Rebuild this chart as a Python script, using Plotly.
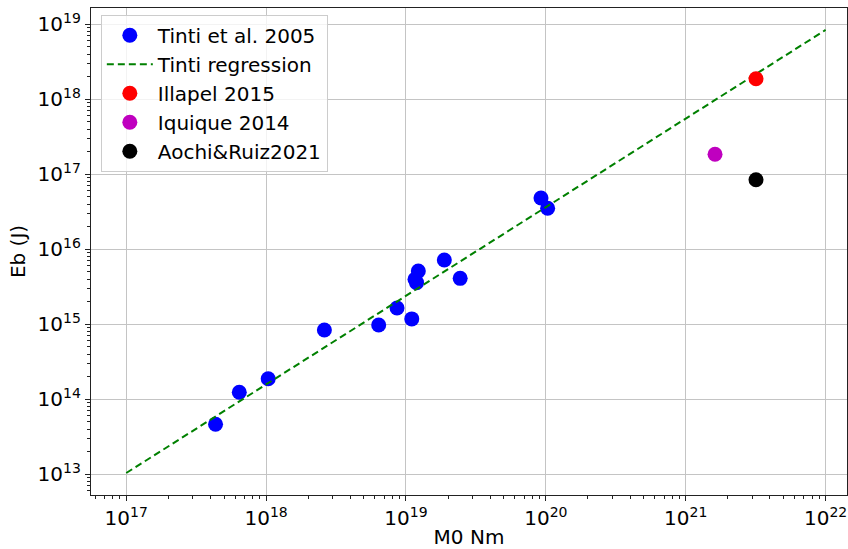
import numpy as np
import plotly.graph_objects as go

# Data
tinti_m0 = [4.35e17, 6.43e17, 1.035e18, 2.61e18, 6.38e18, 8.63e18, 1.10e19,
            1.225e19, 1.16e19, 1.19e19, 1.88e19, 2.44e19, 9.23e19, 1.03e20]
tinti_eb = [4.64e13, 1.24e14, 1.88e14, 8.4e14, 9.8e14, 1.65e15, 1.18e15,
            5.14e15, 3.98e15, 3.59e15, 7.2e15, 4.1e15, 4.83e16, 3.52e16]
regress_m0 = [1e17, 1e22]
regress_eb = [1.04e13, 8.4e18]
illapel_m0 = [3.18e21]
illapel_eb = [1.88e18]
iquique_m0 = [1.62e21]
iquique_eb = [1.85e17]
aochi_m0 = [3.18e21]
aochi_eb = [8.47e16]

x_decades = [17, 18, 19, 20, 21, 22]
y_decades = [13, 14, 15, 16, 17, 18, 19]

FONT = "DejaVu Sans"

fig = go.Figure()
fig.add_trace(go.Scatter(x=tinti_m0, y=tinti_eb, mode="markers", name="Tinti et al. 2005",
                         marker=dict(color="#0000ff", size=15)))
fig.add_trace(go.Scatter(x=regress_m0, y=regress_eb, mode="lines", name="Tinti regression",
                         line=dict(color="#008000", width=2, dash="7px,4px")))
fig.add_trace(go.Scatter(x=illapel_m0, y=illapel_eb, mode="markers", name="Illapel 2015",
                         marker=dict(color="#ff0000", size=15)))
fig.add_trace(go.Scatter(x=iquique_m0, y=iquique_eb, mode="markers", name="Iquique 2014",
                         marker=dict(color="#bf00bf", size=15)))
fig.add_trace(go.Scatter(x=aochi_m0, y=aochi_eb, mode="markers", name="Aochi&Ruiz2021",
                         marker=dict(color="#000000", size=15)))


def minor_vals(lo, hi):
    vals = []
    for d in range(lo, hi + 1):
        for k in range(2, 10):
            vals.append(k * 10.0 ** d)
    return vals


axis_common = dict(
    type="log", showline=True, linecolor="#222222", linewidth=1.3, mirror=True,
    ticks="outside", ticklen=5, tickwidth=1, tickcolor="#222222",
    showgrid=True, gridcolor="#c4c4c4", gridwidth=1, zeroline=False,
    tickfont=dict(family=FONT, size=20, color="black"),
    automargin=False,
)

fig.update_xaxes(
    **axis_common,
    range=[16.748, 22.153],
    tickmode="array",
    tickvals=[10.0 ** d for d in x_decades],
    ticktext=[f"10<sup>{d}</sup>" for d in x_decades],
    minor=dict(tickmode="array", tickvals=minor_vals(16, 22), ticks="outside",
               ticklen=3, tickcolor="#222222", showgrid=False),
    title=dict(text="M0 Nm", font=dict(family=FONT, size=20, color="black"), standoff=4),
)
fig.update_yaxes(
    **axis_common,
    range=[12.724, 19.217],
    tickmode="array",
    tickvals=[10.0 ** d for d in y_decades],
    ticktext=[f"10<sup>{d}</sup>" for d in y_decades],
    minor=dict(tickmode="array", tickvals=minor_vals(12, 19), ticks="outside",
               ticklen=3, tickcolor="#222222", showgrid=False),
    title=dict(text="Eb (J)", font=dict(family=FONT, size=20, color="black"), standoff=6),
)

fig.update_layout(
    width=848, height=549,
    margin=dict(l=91, r=1, t=8, b=54),
    plot_bgcolor="white", paper_bgcolor="white",
    font=dict(family=FONT, size=20, color="black"),
    legend=dict(x=0.013, y=0.986, xanchor="left", yanchor="top",
                bgcolor="rgba(255,255,255,0.8)", bordercolor="#cccccc", borderwidth=1,
                font=dict(family=FONT, size=20, color="black"), itemwidth=46),
    showlegend=True,
)

fig.write_html("out.html", config={"displayModeBar": False},
               post_script="document.body.style.margin='0';document.body.style.overflow='hidden';")
